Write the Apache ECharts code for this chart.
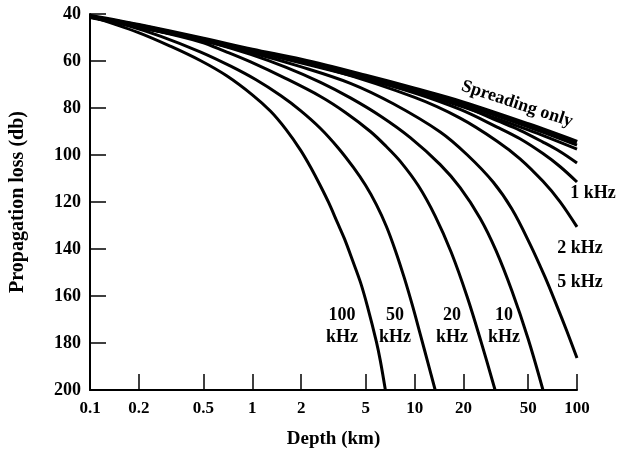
<!DOCTYPE html>
<html>
<head>
<meta charset="utf-8">
<script src="https://cdn.jsdelivr.net/npm/echarts@6/dist/echarts.min.js"></script>
<style>
html,body{margin:0;padding:0;background:#fff;}
#chart{width:617px;height:458px;}
</style>
</head>
<body>
<div id="chart"></div>
<script>
// ---- data (depth in km, propagation loss in db) ----
const xTickValues = [0.1, 0.2, 0.5, 1, 2, 5, 10, 20, 50, 100];
const xTickLabels = ["0.1", "0.2", "0.5", "1", "2", "5", "10", "20", "50", "100"];
const yTickLabels = ["40", "60", "80", "100", "120", "140", "160", "180", "200"];

const spreadR  = [0.1, 0.2, 0.5, 1, 2, 5, 10, 20, 50, 100];
const spreadDb = [40.8, 44.8, 50.6, 55.3, 59.6, 66.4, 71.9, 77.8, 87, 94.5];

const band1R  = [0.1, 1, 10, 20, 50, 100];
const band1Db = [41, 55.6, 72.5, 78.6, 88, 95.8];
const band2R  = [0.1, 1, 10, 20, 50, 100];
const band2Db = [41.2, 55.9, 73.2, 79.6, 89.3, 97.5];

const f05R  = [0.1, 1, 3.16, 10, 19.06, 32.2, 44.57, 61.72, 78.5, 100];
const f05Db = [41.2, 55.5, 63.3, 72.8, 78.8, 85.4, 89.5, 94.5, 98.5, 103.4];

const f1R  = [0.1, 1, 3.16, 10, 19.06, 32.2, 44.57, 61.72, 78.5, 100];
const f1Db = [41.3, 55.6, 63.5, 73.6, 80.6, 88.1, 93.1, 99.4, 104.9, 111.5];

const f2R  = [0.1, 1.004, 3.16, 10, 19.06, 32.2, 44.57, 61.72, 78.5, 100];
const f2Db = [41.5, 55.7, 64.1, 75.5, 84.3, 94.1, 101.6, 111.2, 119.8, 130.6];

const f5R  = [0.1, 0.3146, 1.004, 1.981, 4.019, 7.387, 14.37, 21.05, 30.42, 39.8, 51.34, 63.48, 75.25, 86.67, 100];
const f5Db = [41.3, 48.2, 56.6, 62.4, 69.5, 78.2, 90.2, 99.9, 111.5, 123.1, 137.9, 151.9, 164.3, 175, 186.4];

const f10R  = [0.1, 0.1786, 0.3146, 0.5542, 0.976, 1.602, 2.63, 4.019, 6.147, 9.396, 14.37, 19.06, 25.3, 31.72, 39.8, 49.92, 61.72];
const f10Db = [41.1, 44, 47.6, 52, 57.2, 62.6, 69.1, 75.7, 83.4, 92.6, 104.1, 113.9, 126.9, 140.7, 158, 178.1, 200];

const f20R  = [0.1, 0.2209, 0.481, 0.6852, 0.976, 1.602, 2.63, 3.745, 5.335, 6.689, 8.155, 10.52, 13.38, 16.79, 21.05, 25.66, 31.29];
const f20Db = [41.1, 46.2, 51.9, 56, 60.4, 67.4, 75.1, 81.9, 90, 96.4, 102.7, 113, 126, 141.4, 160.3, 179.5, 200];

const f50R  = [0.1, 0.1665, 0.2733, 0.481, 0.7357, 1.048, 1.493, 1.981, 2.63, 3.392, 4.194, 4.971, 5.808, 6.689, 7.601, 8.633, 9.666, 10.82, 12.12, 13.38];
const f50Db = [40.9, 44.7, 49.5, 56.2, 62.2, 67.9, 74.7, 81.1, 88.7, 97.1, 105.3, 112.8, 121.1, 130.3, 140.6, 152.3, 163.8, 176.2, 188.9, 200];

const f100R  = [0.1, 0.197, 0.315, 0.481, 0.695, 1.004, 1.296, 1.602, 1.981, 2.282, 2.63, 2.945, 3.344, 3.692, 4.135, 4.632, 5.112, 5.808, 6.147, 6.6];
const f100Db = [40.9, 47.8, 53.8, 59.9, 66.3, 74.5, 81.4, 88.9, 97.9, 105.1, 113.2, 120.1, 128.8, 135.6, 144.7, 154.1, 164.3, 179.4, 187.6, 200];

// ---- chart ----
const FONT = "Liberation Serif";
function pairs(r, d) { return r.map((v, i) => [v, d[i]]); }
function curve(name, r, d, w) {
  return {
    name: name, type: 'line', data: pairs(r, d), smooth: 0.35, showSymbol: false,
    lineStyle: { color: '#000', width: w }, silent: true, animation: false, clip: true
  };
}
function label(text, x, y) {
  return { type: 'text', x: x, y: y,
    style: { text: text, align: 'center', verticalAlign: 'middle', lineHeight: 22,
             font: 'bold 18px "Liberation Serif"', fill: '#000' } };
}

const chart = echarts.init(document.getElementById('chart'), null, { renderer: 'canvas' });
chart.setOption({
  backgroundColor: '#fff',
  animation: false,
  grid: { left: 89, right: 40, top: 14, bottom: 68 },
  xAxis: {
    type: 'log', logBase: 10, min: 0.1, max: 100,
    name: 'Depth (km)', nameLocation: 'middle', nameGap: 40,
    nameTextStyle: { fontFamily: FONT, fontSize: 19, fontWeight: 'bold', color: '#000' },
    axisLine: { lineStyle: { color: '#000', width: 2 } },
    axisTick: { inside: true, length: 16, lineStyle: { color: '#000', width: 1.5 }, customValues: xTickValues },
    axisLabel: {
      customValues: xTickValues, margin: 10,
      fontFamily: FONT, fontSize: 17, fontWeight: 'bold', color: '#000',
      formatter: function (v) {
        let best = 0;
        for (let i = 0; i < xTickValues.length; i++) {
          if (Math.abs(Math.log10(xTickValues[i]) - Math.log10(v)) < Math.abs(Math.log10(xTickValues[best]) - Math.log10(v))) best = i;
        }
        return xTickLabels[best];
      }
    },
    minorTick: { show: false },
    splitLine: { show: false }
  },
  yAxis: {
    type: 'value', inverse: true, min: 40, max: 200, interval: 20,
    name: 'Propagation loss (db)', nameLocation: 'middle', nameGap: 62,
    nameTextStyle: { fontFamily: FONT, fontSize: 20, fontWeight: 'bold', color: '#000' },
    axisLine: { show: true, lineStyle: { color: '#000', width: 2 } },
    axisTick: { show: true, inside: true, length: 16, lineStyle: { color: '#000', width: 1.5 } },
    axisLabel: {
      margin: 9, fontFamily: FONT, fontSize: 18, fontWeight: 'bold', color: '#000',
      formatter: function (v) { return yTickLabels[Math.round((v - 40) / 20)]; }
    },
    splitLine: { show: false }
  },
  series: [
    curve('Spreading only', spreadR, spreadDb, 4.5),
    curve('0.1 kHz', band1R, band1Db, 3),
    curve('0.2 kHz', band2R, band2Db, 3),
    curve('0.5 kHz', f05R, f05Db, 3),
    curve('1 kHz', f1R, f1Db, 3),
    curve('2 kHz', f2R, f2Db, 3),
    curve('5 kHz', f5R, f5Db, 3),
    curve('10 kHz', f10R, f10Db, 3),
    curve('20 kHz', f20R, f20Db, 3),
    curve('50 kHz', f50R, f50Db, 3),
    curve('100 kHz', f100R, f100Db, 3)
  ],
  graphic: [
    { type: 'text', x: 517, y: 104, rotation: -0.32,
      style: { text: 'Spreading only', align: 'center', verticalAlign: 'middle',
               font: 'bold 18px "Liberation Serif"', fill: '#000' } },
    label('1 kHz', 593, 193),
    label('2 kHz', 580, 248),
    label('5 kHz', 580, 282),
    label('100\nkHz', 342, 326),
    label('50\nkHz', 395, 326),
    label('20\nkHz', 452, 326),
    label('10\nkHz', 504, 326)
  ]
});
</script>
</body>
</html>
